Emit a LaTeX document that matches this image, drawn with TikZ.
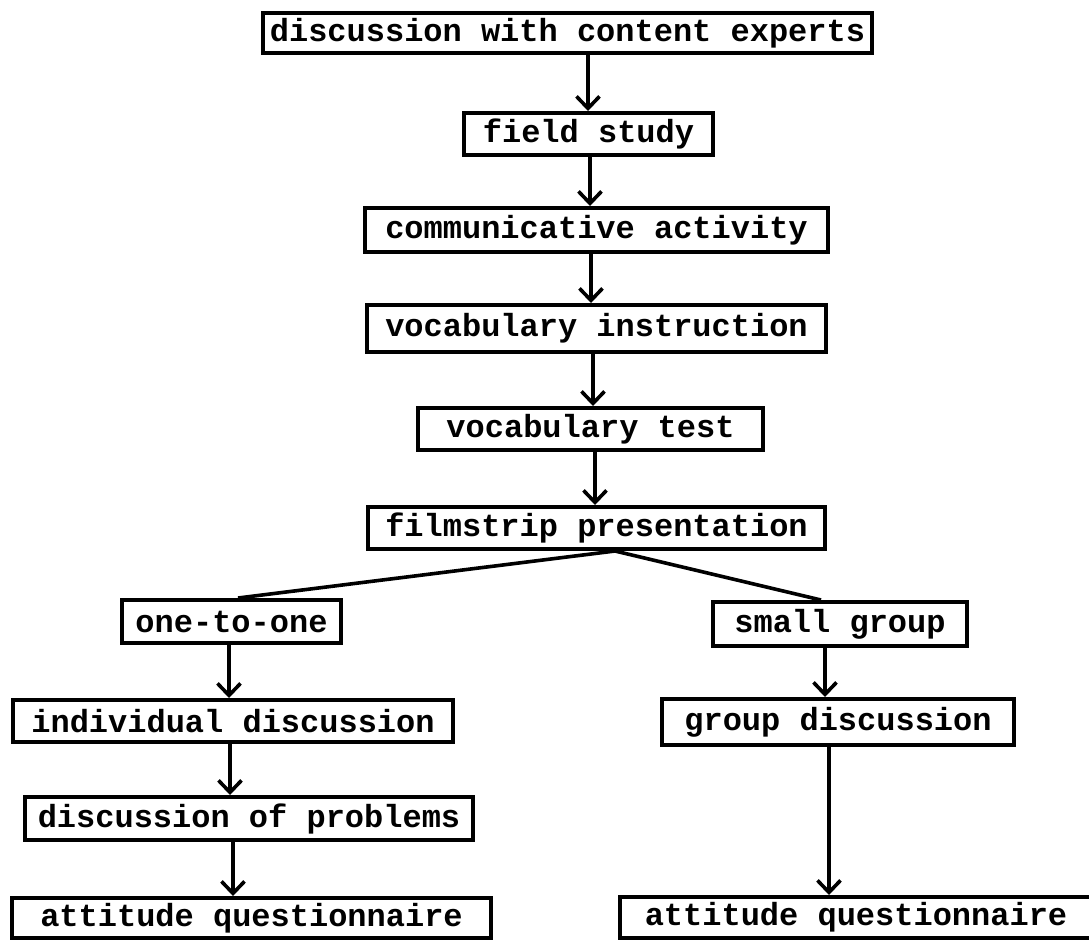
\documentclass[tikz,border=0pt]{standalone}
\usepackage{fontspec}
\newfontfamily\dotfont{Liberation Mono}
\usetikzlibrary{arrows.meta}
\begin{document}
\begin{tikzpicture}[x=0.5pt,y=-0.5pt,
  bx/.style={draw, line width=2pt, inner sep=0pt,
    font=\fontsize{16pt}{18pt}\selectfont\dotfont\bfseries},
  conn/.style={line width=1.8pt},
  arr/.style={conn, -{Straight Barb[length=6pt,width=11.5pt]}}]
\useasboundingbox (0,0) rectangle (1089,939);
\fill[white] (0,0) rectangle (1089,939);

\node[bx, minimum width=304.5pt, minimum height=20pt]   (n1)  at (567.5,33)  {discussion with content experts};
\node[bx, minimum width=124.5pt, minimum height=21pt]   (n2)  at (588.5,134) {field study};
\node[bx, minimum width=231.5pt, minimum height=22pt]   (n3)  at (596.5,230) {communicative activity};
\node[bx, minimum width=229.5pt, minimum height=23.5pt] (n4)  at (596.5,328.5) {vocabulary instruction};
\node[bx, minimum width=172.5pt, minimum height=21pt]   (n5)  at (590.5,429) {vocabulary test};
\node[bx, minimum width=228.5pt, minimum height=21pt]   (n6)  at (596.5,528) {filmstrip presentation};
\node[bx, minimum width=109.5pt, minimum height=21.5pt] (n7)  at (231.5,621.5) {one-to-one};
\node[bx, minimum width=127pt,   minimum height=22pt]   (n8)  at (840,624)   {small group\hspace{11pt}};
\node[bx, minimum width=220pt,   minimum height=21pt]   (n9)  at (233,721)   {individual discussion};
\node[bx, minimum width=176pt,   minimum height=23pt]   (n10) at (838,722)   {group discussion};
\node[bx, minimum width=224pt,   minimum height=21.5pt] (n11) at (249,818.5) {discussion of problems};
\node[bx, minimum width=239.5pt, minimum height=20pt]   (n12) at (251.5,918) {attitude questionnaire};
\node[bx, minimum width=236pt,   minimum height=20.5pt] (n13) at (856,917.5) {attitude questionnaire};

\coordinate (xa) at (588,0);
\coordinate (xb) at (590,0);
\coordinate (xc) at (591,0);
\coordinate (xd) at (593,0);
\coordinate (xe) at (595,0);
\coordinate (xf) at (615,0);
\coordinate (xg) at (238,0);
\coordinate (xh) at (821,0);
\coordinate (xi) at (229,0);
\coordinate (xj) at (825,0);
\coordinate (xk) at (230,0);
\coordinate (xl) at (233,0);
\coordinate (xm) at (829,0);

\draw[arr] (n1.south -| xa) -- (n2.north -| xa);
\draw[arr] (n2.south -| xb) -- (n3.north -| xb);
\draw[arr] (n3.south -| xc) -- (n4.north -| xc);
\draw[arr] (n4.south -| xd) -- (n5.north -| xd);
\draw[arr] (n5.south -| xe) -- (n6.north -| xe);
\draw[conn] (n7.north -| xg) -- (n6.south -| xf) -- (n8.north -| xh);
\draw[arr] (n7.south -| xi) -- (n9.north -| xi);
\draw[arr] (n8.south -| xj) -- (n10.north -| xj);
\draw[arr] (n9.south -| xk) -- (n11.north -| xk);
\draw[arr] (n11.south -| xl) -- (n12.north -| xl);
\draw[arr] (n10.south -| xm) -- (n13.north -| xm);
\end{tikzpicture}
\end{document}
